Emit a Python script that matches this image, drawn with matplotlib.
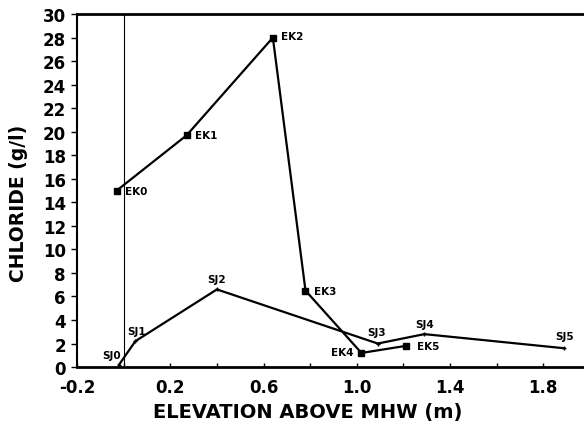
import numpy as np
import matplotlib
matplotlib.use("Agg")
import matplotlib.pyplot as plt
from matplotlib.ticker import MultipleLocator

# EK transect
ek_labels = ["EK0", "EK1", "EK2", "EK3", "EK4", "EK5"]
ek_elev = [-0.03, 0.27, 0.64, 0.78, 1.02, 1.21]
ek_cl = [15.0, 19.7, 28.0, 6.5, 1.2, 1.8]

# SJ transect
sj_labels = ["SJ0", "SJ1", "SJ2", "SJ3", "SJ4", "SJ5"]
sj_elev = [-0.02, 0.05, 0.40, 1.09, 1.29, 1.89]
sj_cl = [0.2, 2.2, 6.6, 2.0, 2.8, 1.6]

plt.rcParams['font.family'] = ['DejaVu Sans']
plt.rcParams['font.weight'] = 'bold'

fig = plt.figure(figsize=(5.84, 4.31), dpi=100)
ax = fig.add_axes([0.132, 0.146, 0.878, 0.819])

ax.plot(ek_elev, ek_cl, color='black', lw=1.6, marker='s', ms=4)
ax.plot(sj_elev, sj_cl, color='black', lw=1.6, marker='+', ms=3)
ax.axvline(0, color='black', lw=0.8)

# point labels: (dx, dy, ha, va)
ek_pos = [(6, 0, 'left', 'center'), (6, 0, 'left', 'center'), (6, 1, 'left', 'center'),
          (6, 0, 'left', 'center'), (-6, 1, 'right', 'center'), (8, 0, 'left', 'center')]
for lab, x, y, (dx, dy, ha, va) in zip(ek_labels, ek_elev, ek_cl, ek_pos):
    ax.annotate(lab, (x, y), xytext=(dx, dy), textcoords='offset points',
                ha=ha, va=va, fontsize=7.5, fontweight='bold')
sj_pos = [(1, 7, 'right', 'center'), (1, 4, 'center', 'bottom'), (0, 4, 'center', 'bottom'),
          (-1, 5, 'center', 'bottom'), (0, 4, 'center', 'bottom'), (0, 5, 'center', 'bottom')]
for lab, x, y, (dx, dy, ha, va) in zip(sj_labels, sj_elev, sj_cl, sj_pos):
    ax.annotate(lab, (x, y), xytext=(dx, dy), textcoords='offset points',
                ha=ha, va=va, fontsize=7.5, fontweight='bold')

ax.set_xlim(-0.2, 2.0)
ax.set_ylim(0, 30)
ax.xaxis.set_minor_locator(MultipleLocator(0.2))
ax.yaxis.set_major_locator(MultipleLocator(2))
ax.set_xticks([-0.2, 0.2, 0.6, 1.0, 1.4, 1.8])
ax.set_xticklabels(["-0.2", "0.2", "0.6", "1.0", "1.4", "1.8"])
ax.tick_params(axis='x', which='both', direction='in', length=3, width=1, labelsize=12, pad=8)
ax.tick_params(axis='y', direction='out', length=4, width=1, labelsize=12, pad=4)
for t in ax.get_xticklabels() + ax.get_yticklabels():
    t.set_fontweight('bold')

ax.spines['right'].set_visible(False)
ax.spines['top'].set_linewidth(2)
ax.spines['bottom'].set_linewidth(2)
ax.spines['left'].set_linewidth(1.5)

ax.set_xlabel("ELEVATION ABOVE MHW (m)", fontsize=14, fontweight='bold')
ax.xaxis.set_label_coords(0.45, -0.10)
ax.set_ylabel("CHLORIDE (g/l)", fontsize=13.5, fontweight='bold')
ax.yaxis.set_label_coords(-0.095, 0.467)

fig.savefig("out.png", dpi=100)
